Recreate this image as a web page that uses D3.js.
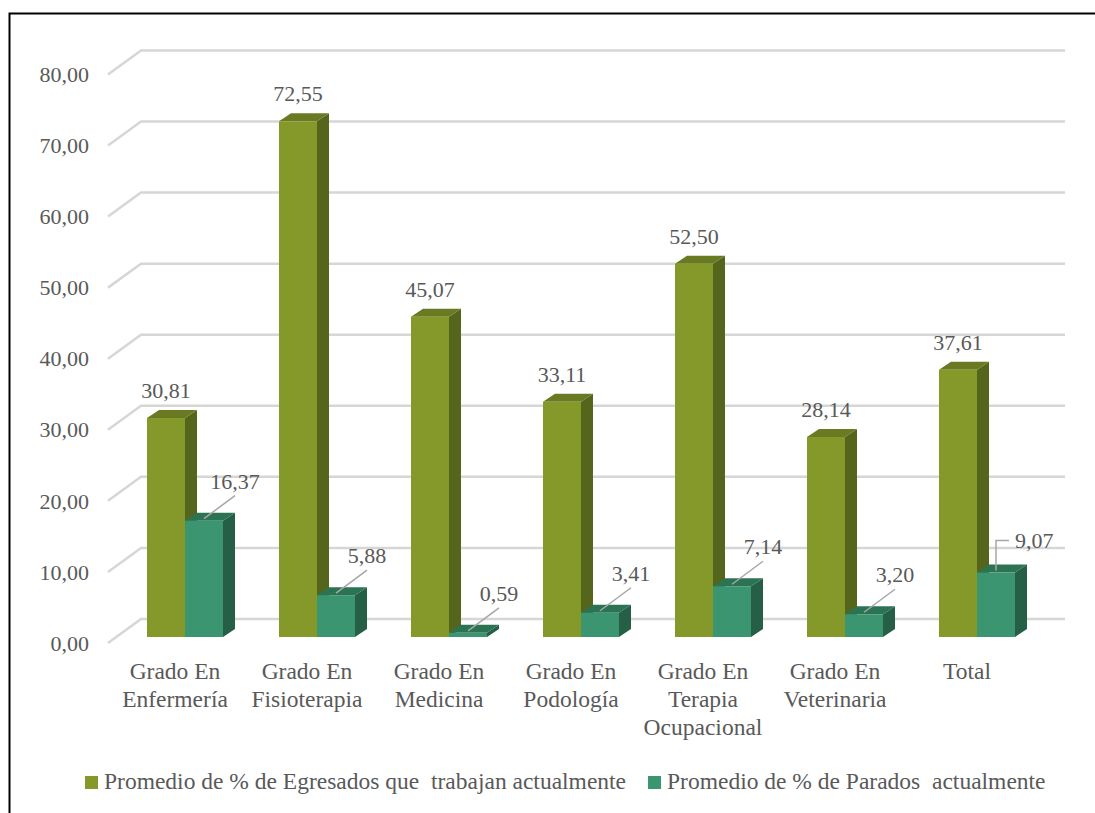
<!DOCTYPE html>
<html>
<head>
<meta charset="utf-8">
<script src="https://cdn.jsdelivr.net/npm/d3@7"></script>
<style>
  body { margin: 0; background: #fff; }
  svg text { font-family: "Liberation Serif", "Times New Roman", Times, "DejaVu Serif", serif; fill: #595959; }
</style>
</head>
<body>
<div id="chart"></div>
<script>
// data
const categories = [
  ["Grado En", "Enfermería"],
  ["Grado En", "Fisioterapia"],
  ["Grado En", "Medicina"],
  ["Grado En", "Podología"],
  ["Grado En", "Terapia", "Ocupacional"],
  ["Grado En", "Veterinaria"],
  ["Total"]
];
const trabajan = [30.81, 72.55, 45.07, 33.11, 52.50, 28.14, 37.61];
const parados = [16.37, 5.88, 0.59, 3.41, 7.14, 3.20, 9.07];
const seriesNames = [
  "Promedio de % de Egresados que  trabajan actualmente",
  "Promedio de % de Parados  actualmente"
];
const yTicks = [0, 10, 20, 30, 40, 50, 60, 70, 80];

const width = 1095, height = 813;
const fmt = v => d3.format(".2f")(v).replace(".", ",");
const fontFamily = "'Liberation Serif', 'Times New Roman', Times, 'DejaVu Serif', serif";

// colours: front, top, side
const colors = [
  { front: "#85992B", top: "#6A7A22", side: "#55651C" },
  { front: "#3A9570", top: "#2C7354", side: "#255F46" }
];

// depth of the bars and of the back wall
const dx = 12, dy = -8;
const wallDx = 33;

let svg = d3.select("#chart").append("svg")
  .attr("width", width)
  .attr("height", height)
  .attr("font-family", fontFamily);

// frame
svg.append("path")
  .attr("d", "M9.5," + height + "V13.5H" + width)
  .attr("fill", "none")
  .attr("stroke", "#000")
  .attr("stroke-width", 2);

let keys = categories.map((c, i) => i);

let x0 = d3.scaleBand()
  .domain(keys)
  .range([119, 1043])
  .paddingInner(0.4242)
  .paddingOuter(0.2121);

let x1 = d3.scaleBand()
  .domain([0, 1])
  .range([0, x0.bandwidth()]);

let yScale = d3.scaleLinear()
  .domain([0, 80])
  .range([637, 68.4]);

// gridlines on the back wall with the diagonal on the left side
let grid = svg.append("g");
yTicks.forEach(function(t) {
  let yf = yScale(t) + 6;
  let yb = yScale(t) - 18;
  grid.append("path")
    .attr("d", "M108," + yf + "L" + (108 + wallDx) + "," + yb + "H1065")
    .attr("fill", "none")
    .attr("stroke", "#d6d6d6")
    .attr("stroke-width", 2.5);
  grid.append("text")
    .attr("x", 89)
    .attr("y", yf)
    .attr("dy", "0.35em")
    .attr("text-anchor", "end")
    .style("font-size", "22px")
    .text(fmt(t));
});

// bars
let series = [trabajan, parados];
let barG = svg.append("g");

keys.forEach(function(k) {
  series.forEach(function(vals, s) {
    let v = vals[k];
    let xl = x0(k) + x1(s);
    let w = x1.bandwidth();
    let yt = yScale(v);
    let yb = yScale(0);
    let c = colors[s];
    // side face
    barG.append("path")
      .attr("d", "M" + (xl + w) + "," + yb + "L" + (xl + w + dx) + "," + (yb + dy) +
        "L" + (xl + w + dx) + "," + (yt + dy) + "L" + (xl + w) + "," + yt + "Z")
      .attr("fill", c.side);
    // top face
    barG.append("path")
      .attr("d", "M" + xl + "," + yt + "L" + (xl + dx) + "," + (yt + dy) +
        "L" + (xl + w + dx) + "," + (yt + dy) + "L" + (xl + w) + "," + yt + "Z")
      .attr("fill", c.top);
    // front face
    barG.append("rect")
      .attr("x", xl)
      .attr("y", yt)
      .attr("width", w)
      .attr("height", yb - yt)
      .attr("fill", c.front);
  });
});

// labels for the first series, above the bars
let labG = svg.append("g");
keys.forEach(function(k) {
  let cx = x0(k) + x1(0) + x1.bandwidth() / 2;
  labG.append("text")
    .attr("x", cx)
    .attr("y", yScale(trabajan[k]) - 20)
    .attr("text-anchor", "middle")
    .style("font-size", "22px")
    .text(fmt(trabajan[k]));
});

// labels for the second series, with leader lines
keys.forEach(function(k) {
  let cx = x0(k) + x1(1) + x1.bandwidth() / 2;
  let y0 = yScale(parados[k]) - 2;
  if (k == keys.length - 1) {
    // last one bends to the right
    labG.append("path")
      .attr("d", "M" + cx + "," + y0 + "V" + (y0 - 30) + "H" + (cx + 13))
      .attr("fill", "none")
      .attr("stroke", "#a6a6a6")
      .attr("stroke-width", 1.5);
    labG.append("text")
      .attr("x", cx + 19)
      .attr("y", y0 - 30)
      .attr("dy", "0.35em")
      .style("font-size", "22px")
      .text(fmt(parados[k]));
  } else {
    labG.append("line")
      .attr("x1", cx)
      .attr("y1", y0)
      .attr("x2", cx + 31)
      .attr("y2", y0 - 23)
      .attr("stroke", "#a6a6a6")
      .attr("stroke-width", 1.5);
    labG.append("text")
      .attr("x", cx + 31)
      .attr("y", y0 - 30)
      .attr("text-anchor", "middle")
      .style("font-size", "22px")
      .text(fmt(parados[k]));
  }
});

// category labels
let catG = svg.append("g");
keys.forEach(function(k) {
  let cx = x0(k) + x0.bandwidth() / 2 - 10;
  let t = catG.append("text")
    .attr("x", cx)
    .attr("y", 679)
    .attr("text-anchor", "middle")
    .style("font-size", "23.5px");
  categories[k].forEach(function(line, i) {
    t.append("tspan")
      .attr("x", cx)
      .attr("dy", i == 0 ? 0 : 28)
      .text(line);
  });
});

// legend
let legend = svg.append("g");
let lx = 85;
seriesNames.forEach(function(name, s) {
  legend.append("rect")
    .attr("x", lx)
    .attr("y", 776)
    .attr("width", 13)
    .attr("height", 13)
    .attr("fill", colors[s].front);
  let t = legend.append("text")
    .attr("x", lx + 19)
    .attr("y", 789)
    .style("font-size", "23.5px")
    .style("white-space", "pre")
    .text(name);
  lx = lx + 19 + t.node().getComputedTextLength() + 22;
});
</script>
</body>
</html>
